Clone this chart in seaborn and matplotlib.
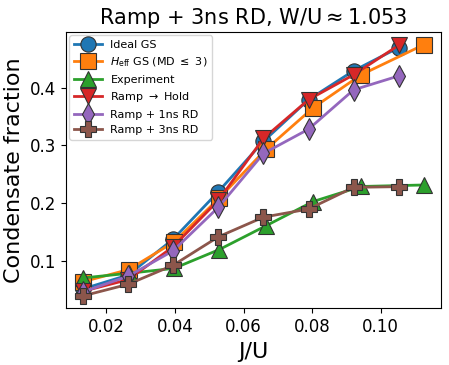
import numpy as np
import pandas as pd
import matplotlib
matplotlib.use("Agg")
import matplotlib.pyplot as plt
import seaborn as sns

# J/U grids
ju_sim = [0.01316, 0.02632, 0.03947, 0.05263, 0.06579, 0.07895, 0.09211, 0.10526]
ju_exp = [0.0132, 0.0265, 0.0397, 0.0529, 0.0665, 0.0803, 0.0943, 0.1126]

# condensate fractions
ideal_gs = [0.052, 0.076, 0.138, 0.220, 0.307, 0.379, 0.429, 0.469]
heff_gs = [0.0645, 0.0855, 0.133, 0.209, 0.293, 0.365, 0.422, 0.474]
experiment = [0.071, 0.079, 0.0875, 0.120, 0.161, 0.203, 0.229, 0.2316]
ramp_hold = [0.048, 0.068, 0.125, 0.205, 0.312, 0.379, 0.422, 0.473]
ramp_1ns = [0.047, 0.074, 0.118, 0.193, 0.286, 0.328, 0.396, 0.420]
ramp_3ns = [0.040, 0.060, 0.093, 0.142, 0.176, 0.190, 0.2275, 0.2287]

series = [
    ("Ideal GS", ju_sim, ideal_gs, "o"),
    (r"$H_{\rm eff}$ GS (MD $\leq$ 3)", ju_exp, heff_gs, "s"),
    ("Experiment", ju_exp, experiment, "^"),
    (r"Ramp $\rightarrow$ Hold", ju_sim, ramp_hold, "v"),
    ("Ramp + 1ns RD", ju_sim, ramp_1ns, "d"),
    ("Ramp + 3ns RD", ju_sim, ramp_3ns, "P"),
]
colors = sns.color_palette("tab10", 6)

fig, ax = plt.subplots(figsize=(4.49, 3.65), dpi=100)
fig.subplots_adjust(left=0.147, right=0.982, bottom=0.155, top=0.912)

for (name, x, y, m), c in zip(series, colors):
    df = pd.DataFrame({"J/U": x, "frac": y})
    sns.lineplot(data=df, x="J/U", y="frac", ax=ax, color=c, marker=m,
                 markersize=11, markeredgecolor="#333333", markeredgewidth=0.8,
                 lw=2, label=name, sort=False)

ax.set_xticks([0.02, 0.04, 0.06, 0.08, 0.10])
ax.set_yticks([0.1, 0.2, 0.3, 0.4])
ax.tick_params(labelsize=12)
ax.set_xlabel("J/U", fontsize=16)
ax.set_ylabel("Condensate fraction", fontsize=16)
ax.set_title(r"Ramp + 3ns RD, W/U$\approx$1.053", fontsize=15)
ax.legend(loc="upper left", fontsize=8, handlelength=2.5, borderaxespad=0.3)

fig.savefig("out.png", dpi=100)
